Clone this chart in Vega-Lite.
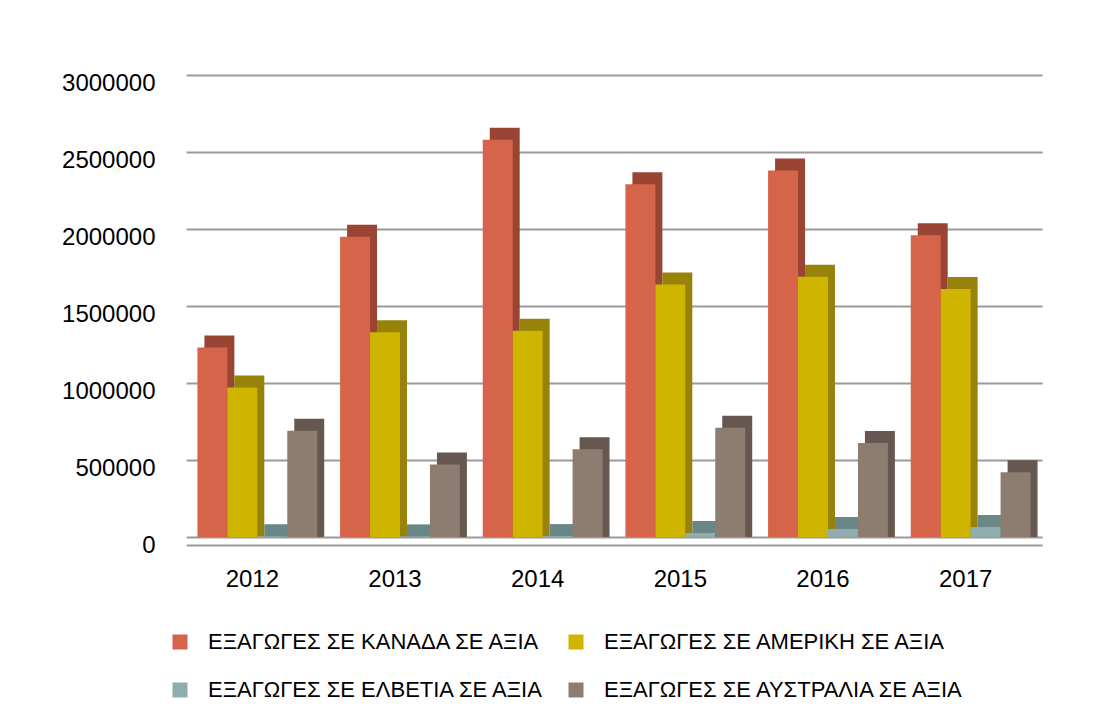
{
  "$schema": "https://vega.github.io/schema/vega-lite/v6.json",
  "autosize": {"type": "none"},
  "padding": {"left": 186, "top": 75, "right": 63, "bottom": 182},
  "width": 856,
  "height": 462,
  "background": "white",
  "config": {
    "view": {"stroke": null},
    "font": "Liberation Sans"
  },
  "data": {
    "values": [
      {"year": "2012", "series": "ΕΞΑΓΩΓΕΣ  ΣΕ ΚΑΝΑΔΑ ΣΕ ΑΞΙΑ", "value": 1230000},
      {"year": "2013", "series": "ΕΞΑΓΩΓΕΣ  ΣΕ ΚΑΝΑΔΑ ΣΕ ΑΞΙΑ", "value": 1950000},
      {"year": "2014", "series": "ΕΞΑΓΩΓΕΣ  ΣΕ ΚΑΝΑΔΑ ΣΕ ΑΞΙΑ", "value": 2580000},
      {"year": "2015", "series": "ΕΞΑΓΩΓΕΣ  ΣΕ ΚΑΝΑΔΑ ΣΕ ΑΞΙΑ", "value": 2290000},
      {"year": "2016", "series": "ΕΞΑΓΩΓΕΣ  ΣΕ ΚΑΝΑΔΑ ΣΕ ΑΞΙΑ", "value": 2380000},
      {"year": "2017", "series": "ΕΞΑΓΩΓΕΣ  ΣΕ ΚΑΝΑΔΑ ΣΕ ΑΞΙΑ", "value": 1960000},
      {"year": "2012", "series": "ΕΞΑΓΩΓΕΣ  ΣΕ ΑΜΕΡΙΚΗ ΣΕ ΑΞΙΑ", "value": 970000},
      {"year": "2013", "series": "ΕΞΑΓΩΓΕΣ  ΣΕ ΑΜΕΡΙΚΗ ΣΕ ΑΞΙΑ", "value": 1330000},
      {"year": "2014", "series": "ΕΞΑΓΩΓΕΣ  ΣΕ ΑΜΕΡΙΚΗ ΣΕ ΑΞΙΑ", "value": 1340000},
      {"year": "2015", "series": "ΕΞΑΓΩΓΕΣ  ΣΕ ΑΜΕΡΙΚΗ ΣΕ ΑΞΙΑ", "value": 1640000},
      {"year": "2016", "series": "ΕΞΑΓΩΓΕΣ  ΣΕ ΑΜΕΡΙΚΗ ΣΕ ΑΞΙΑ", "value": 1690000},
      {"year": "2017", "series": "ΕΞΑΓΩΓΕΣ  ΣΕ ΑΜΕΡΙΚΗ ΣΕ ΑΞΙΑ", "value": 1610000},
      {"year": "2012", "series": "ΕΞΑΓΩΓΕΣ  ΣΕ ΕΛΒΕΤΙΑ ΣΕ ΑΞΙΑ", "value": 5000},
      {"year": "2013", "series": "ΕΞΑΓΩΓΕΣ  ΣΕ ΕΛΒΕΤΙΑ ΣΕ ΑΞΙΑ", "value": 4000},
      {"year": "2014", "series": "ΕΞΑΓΩΓΕΣ  ΣΕ ΕΛΒΕΤΙΑ ΣΕ ΑΞΙΑ", "value": 6000},
      {"year": "2015", "series": "ΕΞΑΓΩΓΕΣ  ΣΕ ΕΛΒΕΤΙΑ ΣΕ ΑΞΙΑ", "value": 26000},
      {"year": "2016", "series": "ΕΞΑΓΩΓΕΣ  ΣΕ ΕΛΒΕΤΙΑ ΣΕ ΑΞΙΑ", "value": 52000},
      {"year": "2017", "series": "ΕΞΑΓΩΓΕΣ  ΣΕ ΕΛΒΕΤΙΑ ΣΕ ΑΞΙΑ", "value": 65000},
      {"year": "2012", "series": "ΕΞΑΓΩΓΕΣ  ΣΕ ΑΥΣΤΡΑΛΙΑ ΣΕ ΑΞΙΑ", "value": 690000},
      {"year": "2013", "series": "ΕΞΑΓΩΓΕΣ  ΣΕ ΑΥΣΤΡΑΛΙΑ ΣΕ ΑΞΙΑ", "value": 470000},
      {"year": "2014", "series": "ΕΞΑΓΩΓΕΣ  ΣΕ ΑΥΣΤΡΑΛΙΑ ΣΕ ΑΞΙΑ", "value": 570000},
      {"year": "2015", "series": "ΕΞΑΓΩΓΕΣ  ΣΕ ΑΥΣΤΡΑΛΙΑ ΣΕ ΑΞΙΑ", "value": 710000},
      {"year": "2016", "series": "ΕΞΑΓΩΓΕΣ  ΣΕ ΑΥΣΤΡΑΛΙΑ ΣΕ ΑΞΙΑ", "value": 610000},
      {"year": "2017", "series": "ΕΞΑΓΩΓΕΣ  ΣΕ ΑΥΣΤΡΑΛΙΑ ΣΕ ΑΞΙΑ", "value": 420000}
    ]
  },
  "encoding": {
    "x": {
      "field": "year",
      "type": "nominal",
      "scale": {"paddingInner": 0.16, "paddingOuter": 0.08},
      "axis": {
        "title": null,
        "labelAngle": 0,
        "labelFontSize": 24,
        "labelColor": "#000000",
        "labelFont": "Liberation Sans",
        "labelPadding": 22,
        "labelOffset": -5,
        "ticks": false,
        "domain": true,
        "domainColor": "#9a9a9a",
        "domainWidth": 2,
        "offset": 8,
        "grid": false
      }
    },
    "y": {
      "field": "value",
      "type": "quantitative",
      "scale": {"domain": [0, 3000000], "nice": false},
      "axis": {
        "title": null,
        "values": [0, 500000, 1000000, 1500000, 2000000, 2500000, 3000000],
        "format": "d",
        "labelFontSize": 24,
        "labelColor": "#000000",
        "labelFont": "Liberation Sans",
        "labelPadding": 31,
        "labelOffset": 8,
        "ticks": false,
        "domain": false,
        "grid": true,
        "gridColor": "#9a9a9a",
        "gridWidth": 2
      }
    }
  },
  "layer": [
    {
      "mark": {"type": "bar", "yOffset": -12},
      "encoding": {
        "y2": {"datum": 0},
        "xOffset": {
          "field": "series",
          "type": "nominal",
          "scale": {
            "domain": ["ΕΞΑΓΩΓΕΣ  ΣΕ ΚΑΝΑΔΑ ΣΕ ΑΞΙΑ", "ΕΞΑΓΩΓΕΣ  ΣΕ ΑΜΕΡΙΚΗ ΣΕ ΑΞΙΑ", "ΕΞΑΓΩΓΕΣ  ΣΕ ΕΛΒΕΤΙΑ ΣΕ ΑΞΙΑ", "ΕΞΑΓΩΓΕΣ  ΣΕ ΑΥΣΤΡΑΛΙΑ ΣΕ ΑΞΙΑ"],
            "range": [7, 126.8]
          }
        },
        "color": {
          "field": "series",
          "type": "nominal",
          "legend": null,
          "scale": {
            "domain": ["ΕΞΑΓΩΓΕΣ  ΣΕ ΚΑΝΑΔΑ ΣΕ ΑΞΙΑ", "ΕΞΑΓΩΓΕΣ  ΣΕ ΑΜΕΡΙΚΗ ΣΕ ΑΞΙΑ", "ΕΞΑΓΩΓΕΣ  ΣΕ ΕΛΒΕΤΙΑ ΣΕ ΑΞΙΑ", "ΕΞΑΓΩΓΕΣ  ΣΕ ΑΥΣΤΡΑΛΙΑ ΣΕ ΑΞΙΑ"],
            "range": ["#9a4533", "#97820a", "#6a8788", "#665850"]
          }
        }
      }
    },
    {
      "mark": {"type": "bar"},
      "encoding": {
        "xOffset": {
          "field": "series",
          "type": "nominal",
          "scale": {
            "domain": ["ΕΞΑΓΩΓΕΣ  ΣΕ ΚΑΝΑΔΑ ΣΕ ΑΞΙΑ", "ΕΞΑΓΩΓΕΣ  ΣΕ ΑΜΕΡΙΚΗ ΣΕ ΑΞΙΑ", "ΕΞΑΓΩΓΕΣ  ΣΕ ΕΛΒΕΤΙΑ ΣΕ ΑΞΙΑ", "ΕΞΑΓΩΓΕΣ  ΣΕ ΑΥΣΤΡΑΛΙΑ ΣΕ ΑΞΙΑ"],
            "range": [0, 119.8]
          }
        },
        "color": {
          "field": "series",
          "type": "nominal",
          "scale": {
            "domain": ["ΕΞΑΓΩΓΕΣ  ΣΕ ΚΑΝΑΔΑ ΣΕ ΑΞΙΑ", "ΕΞΑΓΩΓΕΣ  ΣΕ ΑΜΕΡΙΚΗ ΣΕ ΑΞΙΑ", "ΕΞΑΓΩΓΕΣ  ΣΕ ΕΛΒΕΤΙΑ ΣΕ ΑΞΙΑ", "ΕΞΑΓΩΓΕΣ  ΣΕ ΑΥΣΤΡΑΛΙΑ ΣΕ ΑΞΙΑ"],
            "range": ["#d6644b", "#cfb400", "#8fadaf", "#8d7c70"]
          },
          "legend": {
            "title": null,
            "orient": "none",
            "legendX": -17,
            "legendY": 556,
            "direction": "horizontal",
            "columns": 2,
            "columnPadding": 14,
            "rowPadding": 26,
            "padding": 0,
            "symbolType": "square",
            "symbolSize": 225,
            "symbolStrokeWidth": 0,
            "symbolOpacity": 1,
            "labelFontSize": 22,
            "labelFont": "Liberation Sans",
            "labelColor": "#000000",
            "labelOffset": 17,
            "labelLimit": 500
          }
        }
      }
    }
  ],
  "resolve": {"scale": {"xOffset": "independent", "color": "independent"}}
}
